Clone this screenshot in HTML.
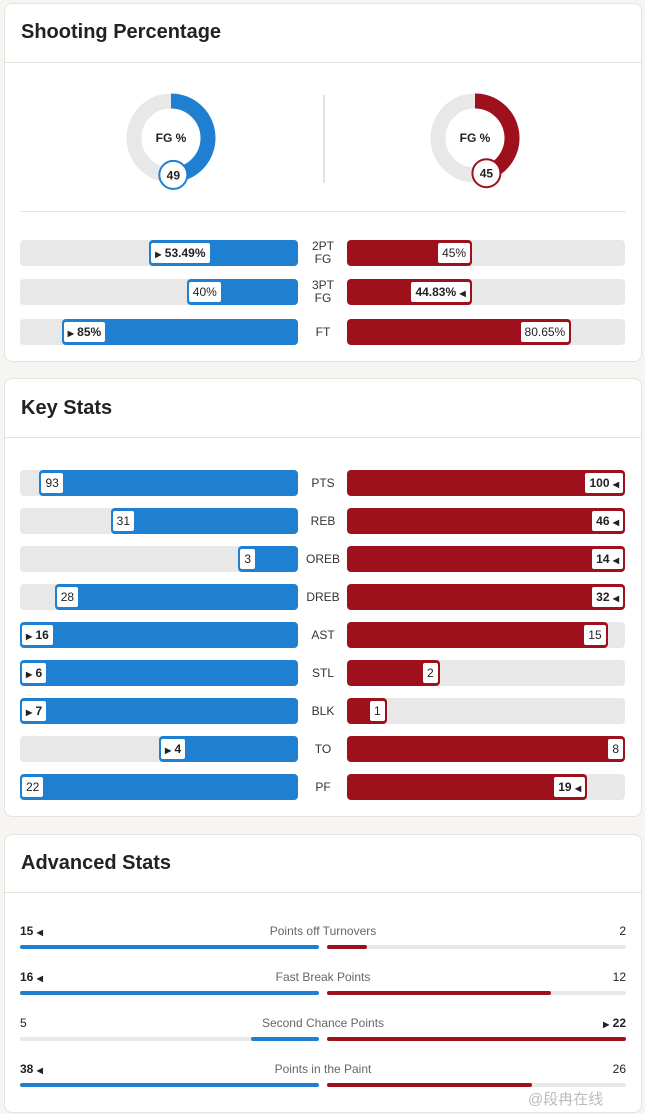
<!DOCTYPE html>
<html><head><meta charset="utf-8"><style>
body{margin:0;width:645px;height:1114px;background:#f7f5f2;font-family:"Liberation Sans",sans-serif;color:#222;position:relative;overflow:hidden}
.card{position:absolute;left:4px;width:638px;background:#fff;border:1px solid #e6e3de;border-radius:8px;box-sizing:border-box}
.title{position:absolute;left:16px;font-size:20px;font-weight:bold;color:#222}
.hr{position:absolute;left:0;right:0;height:1px;background:#e6e3de}
.abs{position:absolute}
.lbl{position:absolute;background:#fff;border-radius:4px;height:24px;line-height:20px;font-size:12px;padding:0 4px;box-sizing:border-box;white-space:nowrap;border:2px solid}
.cat{position:absolute;width:48px;text-align:center;font-size:12px;color:#333;line-height:13px}
</style></head><body>
<div class="card" style="top:3px;height:359px"><div class="title" style="top:17px">Shooting Percentage</div><div class="hr" style="top:58px"></div><div class="abs" style="left:318px;top:91px;width:2px;height:88px;background:#e3e3e3"></div><div class="hr" style="top:207px;left:15px;right:15px"></div></div>
<div class="card" style="top:378px;height:439px"><div class="title" style="top:18px">Key Stats</div><div class="hr" style="top:58px"></div></div>
<div class="card" style="top:834px;height:279px"><div class="title" style="top:17px">Advanced Stats</div><div class="hr" style="top:57px"></div></div>
<div id="root"></div>
<div class="abs" style="left:528px;top:1088px;font-size:15px;color:#bbb;font-family:'Liberation Sans','Noto Sans CJK SC',sans-serif">@段冉在线</div>
<script>
const BLUE='#1f7fd0',RED='#9e111c',GRAY='#e8e8e8';
const fgPct=[49,45];
const shootCats=['2PT<br>FG','3PT<br>FG','FT'];
const shootA=[53.49,40,85];
const shootB=[45,44.83,80.65];
const keyCats=['PTS','REB','OREB','DREB','AST','STL','BLK','TO','PF'];
const keyA=[93,31,3,28,16,6,7,4,22];
const keyB=[100,46,14,32,15,2,1,8,19];
const keyWinA=[0,0,0,0,1,1,1,1,0];
const keyWinB=[1,1,1,1,0,0,0,0,1];
const advCats=['Points off Turnovers','Fast Break Points','Second Chance Points','Points in the Paint'];
const advA=[15,16,5,38];
const advB=[2,12,22,26];
const root=document.getElementById('root');
function mk(cls,style,html){const d=document.createElement('div');if(cls)d.className=cls;d.style.cssText=style;if(html!==undefined)d.innerHTML=html;root.appendChild(d);return d;}
[[171,BLUE],[475,RED]].forEach((c,i)=>{
 const p=fgPct[i],cx=c[0],cy=138,r=37,a=p/100*2*Math.PI;
 const ex=cx+r*Math.sin(a),ey=cy-r*Math.cos(a);
 const s=document.createElementNS('http://www.w3.org/2000/svg','svg');
 s.setAttribute('style','position:absolute;left:0;top:0');s.setAttribute('width','645');s.setAttribute('height','300');
 
 
 s.innerHTML=`<circle cx="${cx}" cy="${cy}" r="${r}" fill="none" stroke="${GRAY}" stroke-width="15"/><path d="M${cx} ${cy-r} A${r} ${r} 0 ${p>50?1:0} 1 ${ex} ${ey}" fill="none" stroke="${c[1]}" stroke-width="15"/><circle cx="${ex}" cy="${ey}" r="14" fill="#fff" stroke="${c[1]}" stroke-width="2"/><text x="${ex}" y="${ey+4.5}" text-anchor="middle" font-size="12" font-weight="bold" font-family="Liberation Sans" fill="#222">${p}</text><text x="${cx}" y="${cy+4}" text-anchor="middle" font-size="12" font-weight="bold" font-family="Liberation Sans" fill="#222">FG %</text>`;
 root.appendChild(s);
});
function row(cy,h,cat,a,b,max,fmtA,fmtB,winA,winB,name){
 const W=278,L=20,R=347;
 const bgA=mk('','position:absolute;left:'+L+'px;top:'+(cy-h/2)+'px;width:'+W+'px;height:'+h+'px;background:'+GRAY+';border-radius:4px');
 
 
 const wa=W*a/max;
 const fa=mk('','position:absolute;left:'+(L+W-wa)+'px;top:'+(cy-h/2)+'px;width:'+wa+'px;height:'+h+'px;background:'+BLUE+';border-radius:4px');
 
 
 const bgB=mk('','position:absolute;left:'+R+'px;top:'+(cy-h/2)+'px;width:'+W+'px;height:'+h+'px;background:'+GRAY+';border-radius:4px');
 
 
 const wb=W*b/max;
 const fb=mk('','position:absolute;left:'+R+'px;top:'+(cy-h/2)+'px;width:'+wb+'px;height:'+h+'px;background:'+RED+';border-radius:4px');
 
 
 const la=mk('lbl','left:'+(L+W-wa)+'px;top:'+(cy-12)+'px;border-color:'+BLUE+';'+(winA?'font-weight:bold':''),(winA?'<span style="font-size:8px">&#9654;</span> ':'')+fmtA);
 
 
 const lb=mk('lbl','right:'+(645-R-wb)+'px;top:'+(cy-12)+'px;border-color:'+RED+';'+(winB?'font-weight:bold':''),fmtB+(winB?' <span style="font-size:8px">&#9664;</span>':''));
 
 
 const c=mk('cat','left:299px;top:'+(cy-(cat.includes('<br>')?13:6))+'px',cat);
 
 
}
shootCats.forEach((c,i)=>row(253+i*39.3,26,c,shootA[i],shootB[i],100,shootA[i]+'%',shootB[i]+'%',shootA[i]>shootB[i],shootB[i]>shootA[i],'shooting-'+i));
keyCats.forEach((c,i)=>{const m=Math.max(keyA[i],keyB[i]);row(483+i*38,26,c,keyA[i],keyB[i],m,keyA[i],keyB[i],keyWinA[i],keyWinB[i],'key-'+c.toLowerCase());});
advCats.forEach((c,i)=>{
 const y=931+i*46,a=advA[i],b=advB[i],m=Math.max(a,b),W=299;
 const aw=a>b,bw=b>a;
 const t=mk('','position:absolute;left:20px;top:'+(y-7)+'px;font-size:12px;'+(aw?'font-weight:bold':''),a+(aw?' <span style="font-size:8px">&#9664;</span>':''));
 
 
 const t2=mk('','position:absolute;right:19px;top:'+(y-7)+'px;font-size:12px;'+(bw?'font-weight:bold':''),(bw?'<span style="font-size:8px">&#9654;</span> ':'')+b);
 
 
 const t3=mk('','position:absolute;left:173px;width:300px;text-align:center;top:'+(y-7)+'px;font-size:12px;color:#666',c);
 
 
 const g1=mk('','position:absolute;left:20px;top:'+(y+14)+'px;width:'+W+'px;height:4px;background:'+GRAY+';border-radius:2px');
 
 
 const wa=W*a/m;
 const b1=mk('','position:absolute;left:'+(20+W-wa)+'px;top:'+(y+14)+'px;width:'+wa+'px;height:4px;background:'+BLUE+';border-radius:2px');
 
 
 const g2=mk('','position:absolute;left:327px;top:'+(y+14)+'px;width:'+W+'px;height:4px;background:'+GRAY+';border-radius:2px');
 
 
 const b2=mk('','position:absolute;left:327px;top:'+(y+14)+'px;width:'+(W*b/m)+'px;height:4px;background:'+RED+';border-radius:2px');
 
 
});
</script>
</body></html>
